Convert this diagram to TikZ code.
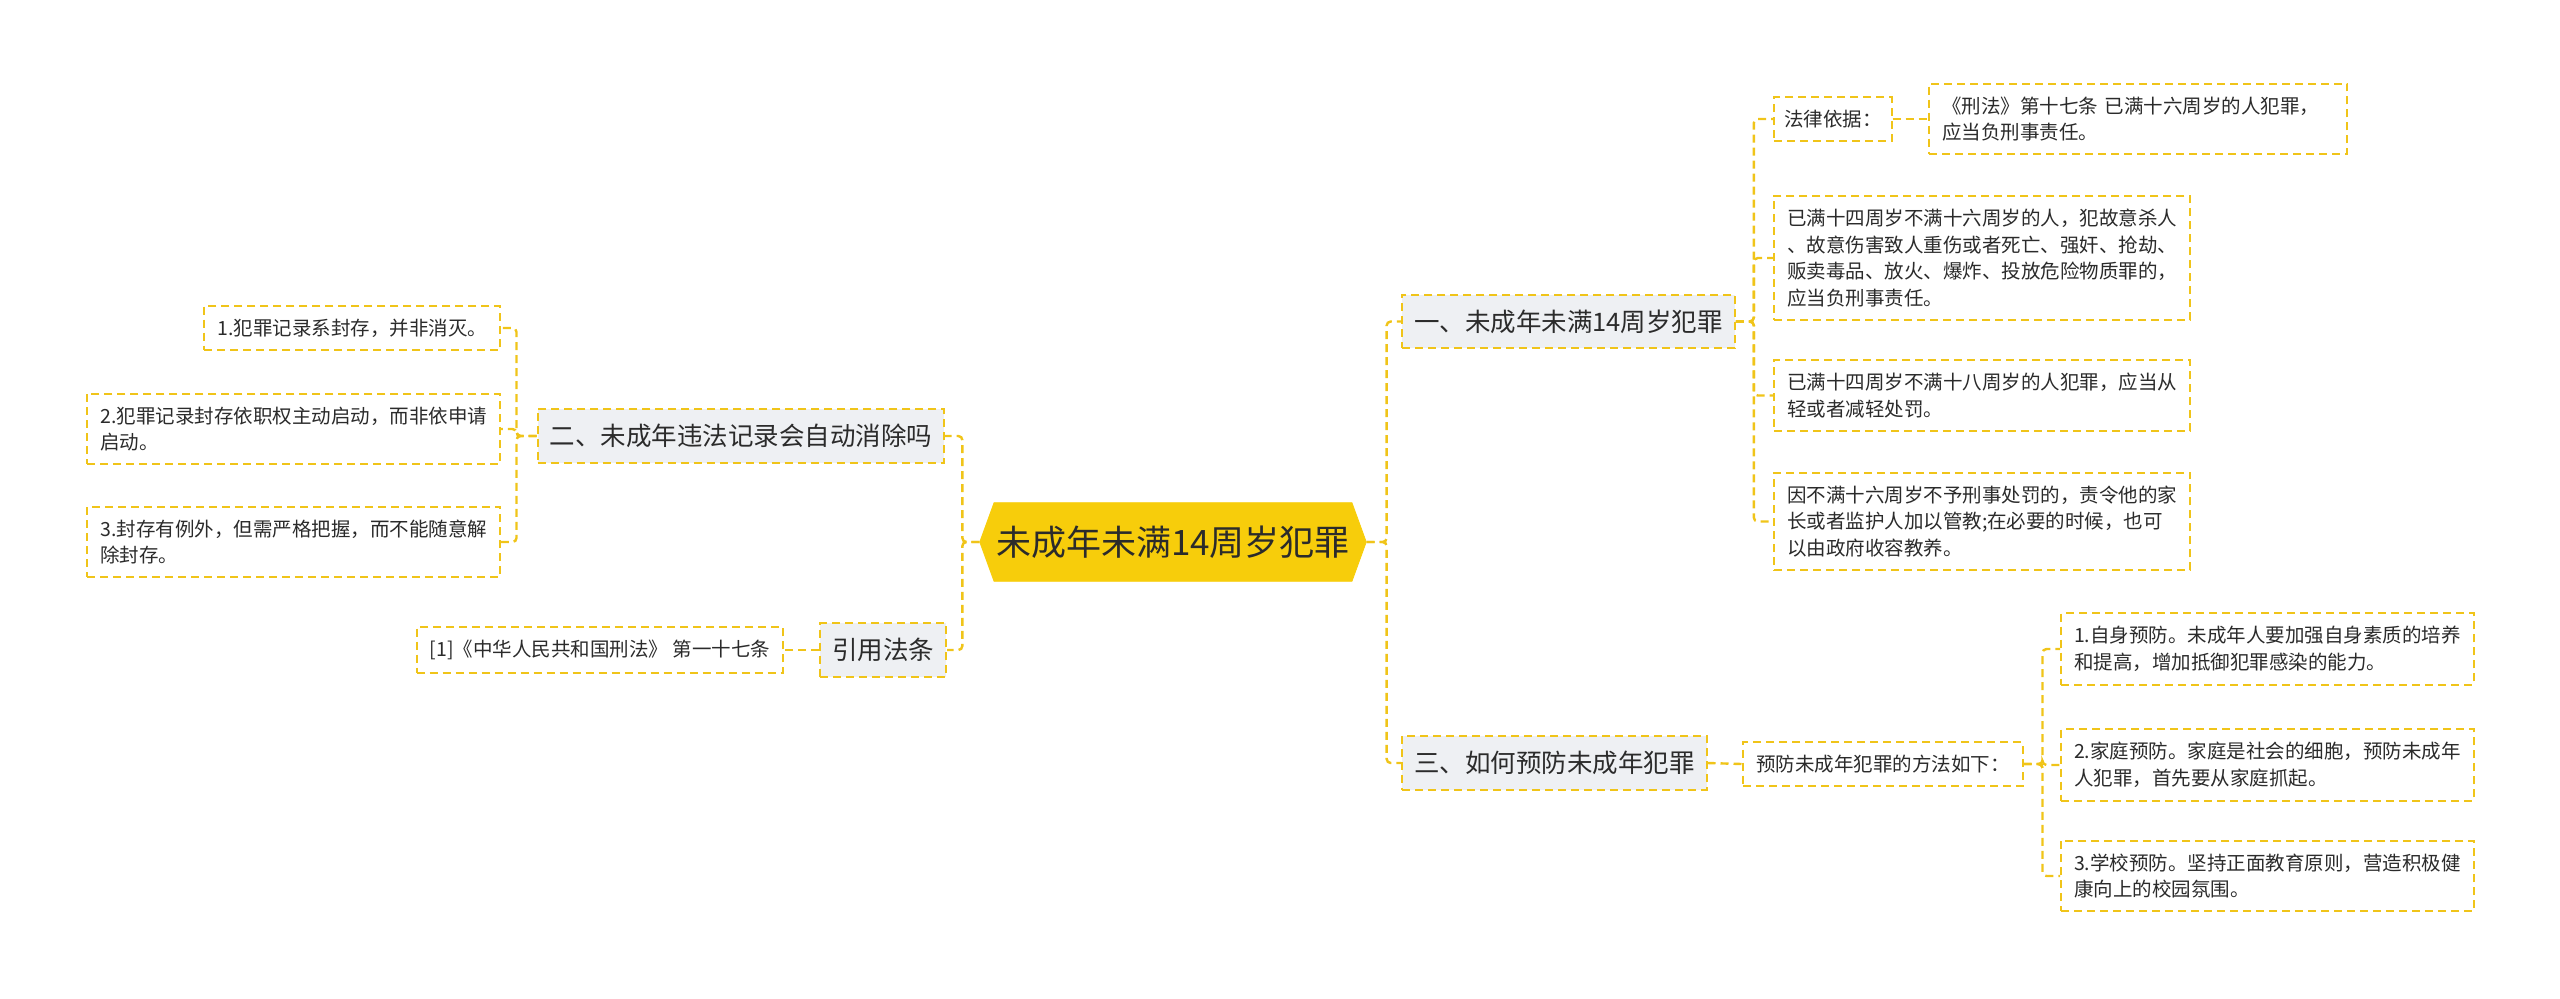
\documentclass[tikz,border=0pt]{standalone}
\usepackage{fontspec}
\setmainfont{Noto Sans CJK SC}
\usetikzlibrary{shapes.symbols}
\definecolor{mmgold}{HTML}{F0C419}
\definecolor{mmyellow}{HTML}{F7CD0B}
\definecolor{mmgray}{HTML}{EEF0F3}
\definecolor{mmtext}{HTML}{2B2B2B}
\tikzset{
  mmroot/.style={signal, signal to=west and east, signal pointer angle=140,
                 fill=mmyellow, draw=mmyellow, text=mmtext, inner xsep=1pt,
                 inner ysep=11.5pt, font=\fontsize{17.5pt}{21pt}\selectfont},
  mmbox/.style={rectangle, draw=mmgold, line width=1pt,
                dash pattern=on 4pt off 2.5pt, text=mmtext},
  mmbranch/.style={mmbox, fill=mmgray, inner xsep=6pt, inner ysep=7.5pt,
                   font=\fontsize{12.75pt}{15pt}\selectfont},
  mmleaf/.style={mmbox, fill=white, align=left, inner xsep=6.5pt,
                 inner ysep=6.5pt, font=\fontsize{9.75pt}{13.35pt}\selectfont},
  mmlink/.style={draw=mmgold, line width=1.2pt, dash pattern=on 4pt off 2.5pt,
                 rounded corners=2pt}
}

\begin{document}
\begin{tikzpicture}[
    x=0.5pt, y=-0.5pt
]
  \useasboundingbox (0,0) rectangle (2560,998);
  \node[mmroot] (root) at (1173,542) {未成年未满14周岁犯罪};
  % right side
  \node[mmbranch, anchor=west] (b1) at (1401,321.5) {一、未成年未满14周岁犯罪};
  \node[mmbranch, anchor=west] (b3) at (1401,763) {三、如何预防未成年犯罪};
  \node[mmleaf, anchor=west, inner xsep=5pt] (b1a) at (1773,119) {法律依据：};
  \node[mmleaf, anchor=west, text width=196pt] (b1a1) at (1928,119)
    {《刑法》第十七条 已满十六周岁的人犯罪，\\应当负刑事责任。};
  \node[mmleaf, anchor=west] (b1b) at (1773,258)
    {已满十四周岁不满十六周岁的人，犯故意杀人\\、故意伤害致人重伤或者死亡、强奸、抢劫、\\贩卖毒品、放火、爆炸、投放危险物质罪的，\\应当负刑事责任。};
  \node[mmleaf, anchor=west] (b1c) at (1773,395.5)
    {已满十四周岁不满十八周岁的人犯罪，应当从\\轻或者减轻处罚。};
  \node[mmleaf, anchor=west] (b1d) at (1773,521.5)
    {因不满十六周岁不予刑事处罚的，责令他的家\\长或者监护人加以管教;在必要的时候，也可\\以由政府收容教养。};
  \node[mmleaf, anchor=west] (b3a) at (1742,764) {预防未成年犯罪的方法如下：};
  \node[mmleaf, anchor=west] (b3a1) at (2060,649)
    {1.自身预防。未成年人要加强自身素质的培养\\和提高，增加抵御犯罪感染的能力。};
  \node[mmleaf, anchor=west] (b3a2) at (2060,765)
    {2.家庭预防。家庭是社会的细胞，预防未成年\\人犯罪，首先要从家庭抓起。};
  \node[mmleaf, anchor=west] (b3a3) at (2060,876)
    {3.学校预防。坚持正面教育原则，营造积极健\\康向上的校园氛围。};
  % left side
  \node[mmbranch, anchor=east] (b2) at (945,436) {二、未成年违法记录会自动消除吗};
  \node[mmbranch, anchor=east] (b4) at (947,650) {引用法条};
  \node[mmleaf, anchor=east] (b2a) at (501,328) {1.犯罪记录系封存，并非消灭。};
  \node[mmleaf, anchor=east] (b2b) at (501,429)
    {2.犯罪记录封存依职权主动启动，而非依申请\\启动。};
  \node[mmleaf, anchor=east] (b2c) at (501,542)
    {3.封存有例外，但需严格把握，而不能随意解\\除封存。};
  \node[mmleaf, anchor=east] (b4a) at (784,650) {[1]《中华人民共和国刑法》 第一十七条};
  \foreach \child in {b1, b3} {
    \draw[mmlink] (root.east) -- ++(20,0) |- (\child.west);
  }
  \foreach \child in {b2, b4} {
    \draw[mmlink] (root.west) -- ++(-17,0) |- (\child.east);
  }
  \foreach \child in {b1a, b1b, b1c, b1d} {
    \draw[mmlink] (b1.east) -- ++(18,0) |- (\child.west);
  }
  \foreach \child in {b3a1, b3a2, b3a3} {
    \draw[mmlink] (b3a.east) -- ++(19,0) |- (\child.west);
  }
  \foreach \child in {b2a, b2b, b2c} {
    \draw[mmlink] (b2.west) -- ++(-20,0) |- (\child.east);
  }
  \draw[mmlink] (b1a.east) -- (b1a1.west);
  \draw[mmlink] (b3.east) -- (b3a.west);
  \draw[mmlink] (b4.west) -- (b4a.east);
\end{tikzpicture}
\end{document}
